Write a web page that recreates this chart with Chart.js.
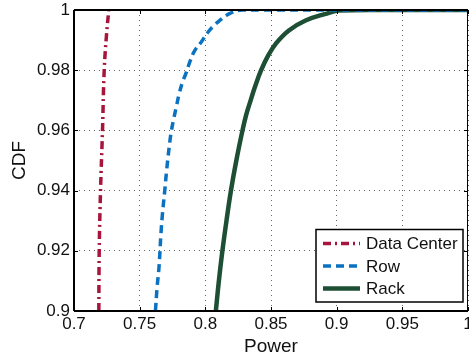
<!DOCTYPE html>
<html>
<head>
<meta charset="utf-8">
<script src="https://cdn.jsdelivr.net/npm/chart.js@4/dist/chart.umd.min.js"></script>
<style>
  html, body { margin: 0; padding: 0; background: #fff; }
  #wrap { width: 469px; height: 355px; }
</style>
</head>
<body>
<div id="wrap"><canvas id="c" width="469" height="355"></canvas></div>
<script>
const seriesLabels = ["Data Center", "Row", "Rack"];
const xTicks = [0.7, 0.75, 0.8, 0.85, 0.9, 0.95, 1];
const yTicks = [0.9, 0.92, 0.94, 0.96, 0.98, 1];

const dcPower = [0.7189, 0.7192, 0.7202, 0.7217, 0.7230, 0.7248, 0.7265];
const dcCdf   = [0.90,   0.92,   0.94,   0.96,   0.98,   0.992,  1.00];

const rowPower = [0.7620, 0.7633, 0.7648, 0.7661, 0.7673, 0.7691, 0.7706, 0.7729, 0.7742, 0.7760, 0.7780, 0.7800, 0.7826, 0.7853, 0.7884, 0.7919, 0.7968, 0.8020, 0.8080, 0.8180, 0.8280, 1.0];
const rowCdf   = [0.900,  0.908,  0.915,  0.925,  0.932,  0.940,  0.947,  0.956,  0.960,  0.964,  0.968,  0.972,  0.976,  0.979,  0.983,  0.9865, 0.9893, 0.9926, 0.9954, 0.9987, 1.00,   1.00];

const rackPower = [0.8080, 0.8103, 0.8130, 0.8161, 0.8195, 0.8236, 0.8283, 0.8310, 0.8345, 0.8382, 0.8425, 0.8480, 0.8540, 0.8636, 0.8763, 0.8914, 0.9015, 0.9300, 1.0];
const rackCdf   = [0.90,   0.91,   0.92,   0.93,   0.94,   0.95,   0.96,   0.965,  0.97,   0.975,  0.98,   0.985,  0.989,  0.9932, 0.9965, 0.9987, 0.9998, 1.00,   1.00];

function pts(xs, ys) { return xs.map((x, i) => ({x: x, y: ys[i]})); }

const styles = [
  {color: "#a8153c", dash: [8, 4, 2, 4], width: 3.5},
  {color: "#0a72c0", dash: [8, 5], width: 3.5},
  {color: "#1d4f35", dash: [], width: 4.5}
];

const boxPlugin = {
  id: "boxPlugin",
  afterDatasetsDraw(chart) {
    const ctx = chart.ctx;
    const a = chart.chartArea;
    const xs = chart.scales.x, ys = chart.scales.y;
    ctx.save();
    ctx.strokeStyle = "#000";
    ctx.lineWidth = 1;
    ctx.beginPath();
    xTicks.forEach(v => {
      const px = Math.round(xs.getPixelForValue(v)) + 0.5;
      ctx.moveTo(px, a.bottom); ctx.lineTo(px, a.bottom - 4);
      ctx.moveTo(px, a.top); ctx.lineTo(px, a.top + 4);
    });
    yTicks.forEach(v => {
      const py = Math.round(ys.getPixelForValue(v)) + 0.5;
      ctx.moveTo(a.left, py); ctx.lineTo(a.left + 4, py);
      ctx.moveTo(a.right, py); ctx.lineTo(a.right - 4, py);
    });
    ctx.stroke();
    ctx.lineWidth = 2;
    ctx.beginPath();
    ctx.moveTo(a.left, a.top); ctx.lineTo(a.right, a.top);
    ctx.moveTo(a.left, a.top); ctx.lineTo(a.left, a.bottom);
    ctx.moveTo(a.left, a.bottom); ctx.lineTo(a.right, a.bottom);
    ctx.stroke();
    ctx.lineWidth = 1;
    ctx.beginPath();
    ctx.moveTo(a.right - 0.5, a.top); ctx.lineTo(a.right - 0.5, a.bottom);
    ctx.stroke();

    const lx = 316, ly = 229.5, lw = 147, lh = 72.5;
    ctx.fillStyle = "#fff";
    ctx.fillRect(lx, ly, lw, lh);
    ctx.lineWidth = 1.5;
    ctx.strokeStyle = "#000";
    ctx.strokeRect(lx, ly, lw, lh);
    ctx.font = "17px 'Liberation Sans', Arial, sans-serif";
    ctx.textBaseline = "middle";
    ctx.textAlign = "left";
    chart.data.datasets.forEach((ds, i) => {
      const y = 243.5 + i * 22.5;
      ctx.save();
      ctx.strokeStyle = ds.borderColor;
      ctx.lineWidth = ds.borderWidth;
      ctx.setLineDash(ds.borderDash || []);
      ctx.beginPath();
      ctx.moveTo(323, y); ctx.lineTo(360, y);
      ctx.stroke();
      ctx.restore();
      ctx.fillStyle = "#111";
      ctx.fillText(ds.label, 366, y + 1);
    });
    ctx.restore();
  }
};

const datasets = [
  pts(dcPower, dcCdf), pts(rowPower, rowCdf), pts(rackPower, rackCdf)
].map((d, i) => ({
  label: seriesLabels[i],
  data: d,
  borderColor: styles[i].color,
  borderWidth: styles[i].width,
  borderDash: styles[i].dash,
  pointRadius: 0,
  fill: false,
  tension: 0.4,
  borderCapStyle: "butt",
  borderJoinStyle: "round"
}));

new Chart(document.getElementById("c"), {
  type: "line",
  data: { datasets: datasets },
  plugins: [boxPlugin],
  options: {
    responsive: false,
    animation: false,
    events: [],
    layout: { padding: { top: 10, right: 1, left: 0, bottom: 0 } },
    plugins: { legend: { display: false }, tooltip: { enabled: false } },
    scales: {
      x: {
        type: "linear",
        min: 0.7, max: 1,
        afterBuildTicks(scale) { scale.ticks = xTicks.map(v => ({value: v})); },
        afterFit(scale) { scale.height = 44; scale.paddingLeft = 0; scale.paddingRight = 0; },
        ticks: {
          color: "#111",
          padding: 3,
          font: { family: "'Liberation Sans', Arial, sans-serif", size: 17 },
          callback: v => String(v)
        },
        grid: { color: "#666", lineWidth: 1, drawTicks: false },
        border: { display: false, dash: [1, 4] },
        title: {
          display: true, text: "Power", color: "#111",
          font: { family: "'Liberation Sans', Arial, sans-serif", size: 19, lineHeight: 0.9 },
          padding: { top: 0, bottom: 0 }
        }
      },
      y: {
        type: "linear",
        min: 0.9, max: 1,
        afterBuildTicks(scale) { scale.ticks = yTicks.map(v => ({value: v})); },
        afterFit(scale) { scale.width = 74; scale.paddingTop = 0; scale.paddingBottom = 0; },
        ticks: {
          color: "#111",
          padding: 4,
          font: { family: "'Liberation Sans', Arial, sans-serif", size: 17 },
          callback: v => String(v)
        },
        grid: { color: "#666", lineWidth: 1, drawTicks: false },
        border: { display: false, dash: [1, 4] },
        title: {
          display: true, text: "CDF", color: "#111",
          font: { family: "'Liberation Sans', Arial, sans-serif", size: 19, lineHeight: 1 },
          padding: { top: 10, bottom: 0 }
        }
      }
    }
  }
});
</script>
</body>
</html>
